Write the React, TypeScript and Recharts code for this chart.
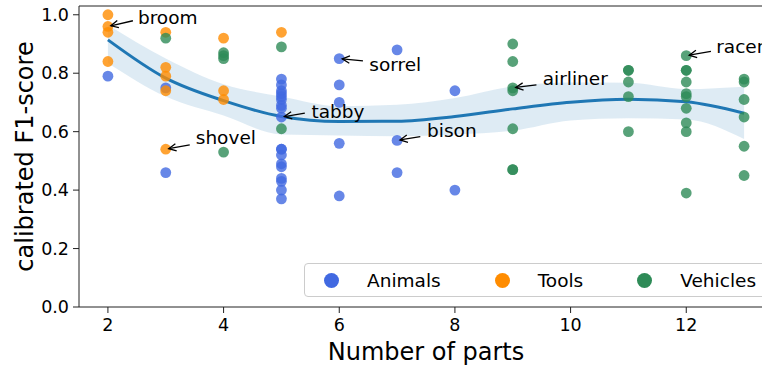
import React from 'react';
import {
  ComposedChart,
  Scatter,
  Line,
  Area,
  XAxis,
  YAxis,
  ReferenceLine,
  Label
} from 'recharts';

const FONT = '"DejaVu Sans", sans-serif';

const categories = ['Animals', 'Tools', 'Vehicles'];
const categoryColors = ['#4169E1', '#FF8C00', '#2E8B57'];

const animalParts = [2, 3, 3, 5, 5, 5, 5, 5, 5, 5, 5, 5, 5, 5, 5, 5, 5, 5, 5, 5, 5, 6, 6, 6, 6, 6, 7, 7, 7, 8, 8];
const animalScores = [
  0.79, 0.75, 0.46,
  0.78, 0.76, 0.74, 0.73, 0.72, 0.71, 0.69, 0.68, 0.65, 0.54, 0.54, 0.52, 0.49, 0.48, 0.44, 0.43, 0.40, 0.37,
  0.85, 0.76, 0.70, 0.56, 0.38,
  0.88, 0.57, 0.46,
  0.74, 0.40
];

const toolParts = [2, 2, 2, 2, 3, 3, 3, 3, 3, 4, 4, 4, 5];
const toolScores = [1.0, 0.96, 0.94, 0.84, 0.94, 0.82, 0.79, 0.74, 0.54, 0.92, 0.74, 0.71, 0.94];

const vehicleParts = [3, 4, 4, 4, 4, 5, 5, 9, 9, 9, 9, 9, 9, 9, 11, 11, 11, 11, 11, 12, 12, 12, 12, 12, 12, 12, 12, 12, 12, 13, 13, 13, 13, 13, 13];
const vehicleScores = [
  0.92,
  0.87, 0.86, 0.85, 0.53,
  0.89, 0.61,
  0.90, 0.84, 0.75, 0.74, 0.61, 0.47, 0.47,
  0.81, 0.81, 0.77, 0.72, 0.60,
  0.86, 0.81, 0.81, 0.77, 0.73, 0.72, 0.68, 0.63, 0.60, 0.39,
  0.78, 0.77, 0.71, 0.65, 0.55, 0.45
];

// fitted curve and its confidence band
const fitParts = [2, 3, 4, 5, 6, 7, 8, 9, 10, 11, 12, 13];
const fitScores = [0.914, 0.783, 0.706, 0.652, 0.635, 0.636, 0.652, 0.678, 0.701, 0.711, 0.702, 0.663];
const ciLower = [0.835, 0.72, 0.655, 0.59, 0.587, 0.584, 0.59, 0.603, 0.638, 0.646, 0.642, 0.575];
const ciUpper = [0.965, 0.85, 0.762, 0.72, 0.687, 0.692, 0.715, 0.755, 0.768, 0.767, 0.746, 0.754];

const annotationNames = ['broom', 'shovel', 'tabby', 'sorrel', 'bison', 'airliner', 'racer'];
const annotationParts = [2, 3, 5, 6, 7, 9, 12];
const annotationScores = [0.96, 0.54, 0.65, 0.85, 0.57, 0.75, 0.86];

const xTicks = [2, 4, 6, 8, 10, 12];
const yTicks = [0, 0.2, 0.4, 0.6, 0.8, 1.0];

// pixel offsets for label text baseline and arrow tail, relative to the point
const labelOffsets: Record<string, { dy: number; ax: number; ay: number }> = {
  broom: { dy: -2.7, ax: 25, ay: -5.7 },
  shovel: { dy: -5.3, ax: 24, ay: -4.3 },
  tabby: { dy: 0.5, ax: 23.4, ay: -3.9 },
  sorrel: { dy: 11.9, ax: 23.7, ay: 2.2 },
  bison: { dy: -3.3, ax: 23.2, ay: -3.9 },
  airliner: { dy: -3, ax: 23.7, ay: -3 },
  racer: { dy: -2.7, ax: 24.7, ay: -4.3 }
};

const zip = (xs: number[], ys: number[]) => xs.map((x, i) => ({ x, y: ys[i] }));

const seriesData = [
  zip(animalParts, animalScores),
  zip(toolParts, toolScores),
  zip(vehicleParts, vehicleScores)
];

const fitData = fitParts.map((x, i) => ({ x, fit: fitScores[i], band: [ciLower[i], ciUpper[i]] }));

const annotationData = annotationNames.map((name, i) => ({
  x: annotationParts[i],
  y: annotationScores[i],
  name
}));

const makeDot = (color: string) => (props: any) => {
  const { cx, cy } = props;
  if (cx == null || cy == null) return <g />;
  return <circle cx={cx} cy={cy} r={5.4} fill={color} fillOpacity={0.8} />;
};

const AnnotationShape = (props: any) => {
  const { cx, cy, payload } = props;
  if (cx == null || cy == null) return <g />;
  const o = labelOffsets[payload.name];
  const len = Math.hypot(o.ax, o.ay);
  const ux = o.ax / len;
  const uy = o.ay / len;
  const hx = cx + ux * 3;
  const hy = cy + uy * 3;
  const ang = Math.atan2(uy, ux);
  const w = 8.3;
  const spread = 0.46;
  const w1x = hx + w * Math.cos(ang + spread);
  const w1y = hy + w * Math.sin(ang + spread);
  const w2x = hx + w * Math.cos(ang - spread);
  const w2y = hy + w * Math.sin(ang - spread);
  return (
    <g>
      <line x1={cx + o.ax} y1={cy + o.ay} x2={hx} y2={hy} stroke="#000" strokeWidth={1.3} />
      <polyline
        points={`${w1x},${w1y} ${hx},${hy} ${w2x},${w2y}`}
        fill="none"
        stroke="#000"
        strokeWidth={1.3}
      />
      <text x={cx + 30} y={cy + o.dy} fontSize={18.5} fill="#000" fontFamily={FONT}>
        {payload.name}
      </text>
    </g>
  );
};

const LegendBox = () => (
  <div
    style={{
      position: 'absolute',
      left: 304,
      top: 263,
      width: 470,
      display: 'flex',
      alignItems: 'center',
      height: 34,
      boxSizing: 'border-box',
      border: '1px solid #cccccc',
      borderRadius: 4,
      background: 'rgba(255,255,255,0.8)',
      paddingLeft: 19,
      fontFamily: FONT,
      fontSize: 18.5,
      color: '#000',
      whiteSpace: 'nowrap'
    }}
  >
    {categories.map((c, i) => (
      <div key={c} style={{ display: 'flex', alignItems: 'center', marginRight: 54 }}>
        <span
          style={{
            display: 'inline-block',
            width: 15,
            height: 15,
            borderRadius: '50%',
            background: categoryColors[i],
            marginRight: 28
          }}
        />
        <span>{c}</span>
      </div>
    ))}
  </div>
);

const App = () => {
  return (
    <div
      style={{
        position: 'fixed',
        left: 0,
        top: 0,
        width: 762,
        height: 367,
        overflow: 'hidden',
        background: '#fff',
        fontFamily: FONT
      }}
    >
      <ComposedChart
        width={800}
        height={367}
        data={fitData}
        margin={{ top: 6, right: 27, bottom: 0, left: 0 }}
      >
        <XAxis
          dataKey="x"
          type="number"
          domain={[1.5, 13.5]}
          ticks={xTicks}
          allowDataOverflow
          height={60}
          stroke="#222"
          tickSize={6}
          tickMargin={6}
          tick={{ fontSize: 17.5, fill: '#000', fontFamily: FONT }}
        >
          <Label
            content={(p: any) => {
              const vb = p.viewBox || { x: 79, width: 694 };
              return (
                <text
                  x={vb.x + vb.width / 2}
                  y={360}
                  textAnchor="middle"
                  fontSize={24}
                  fill="#000"
                  fontFamily={FONT}
                >
                  Number of parts
                </text>
              );
            }}
          />
        </XAxis>
        <YAxis
          type="number"
          domain={[0, 1.03]}
          ticks={yTicks}
          allowDataOverflow
          width={79}
          stroke="#222"
          tickSize={6}
          tickMargin={4}
          tickFormatter={(v: number) => v.toFixed(1)}
          tick={{ fontSize: 17.5, fill: '#000', fontFamily: FONT }}
        >
          <Label
            content={() => (
              <text
                x={33}
                y={156.5}
                transform="rotate(-90, 33, 156.5)"
                textAnchor="middle"
                fontSize={24}
                fill="#000"
                fontFamily={FONT}
              >
                calibrated F1-score
              </text>
            )}
          />
        </YAxis>
        <ReferenceLine y={1.03} stroke="#222" />
        <ReferenceLine x={13.5} stroke="#222" />
        {seriesData.map((d, i) => (
          <Scatter
            key={categories[i]}
            name={categories[i]}
            data={d}
            dataKey="y"
            shape={makeDot(categoryColors[i])}
            isAnimationActive={false}
          />
        ))}
        <Area
          type="monotone"
          dataKey="band"
          stroke="none"
          fill="#1f77b4"
          fillOpacity={0.15}
          isAnimationActive={false}
          activeDot={false}
        />
        <Line
          type="monotone"
          dataKey="fit"
          stroke="#1f77b4"
          strokeWidth={3}
          dot={false}
          activeDot={false}
          isAnimationActive={false}
        />
        <Scatter
          name="labels"
          data={annotationData}
          dataKey="y"
          shape={AnnotationShape}
          isAnimationActive={false}
        />
      </ComposedChart>
      <LegendBox />
    </div>
  );
};

export default App;
